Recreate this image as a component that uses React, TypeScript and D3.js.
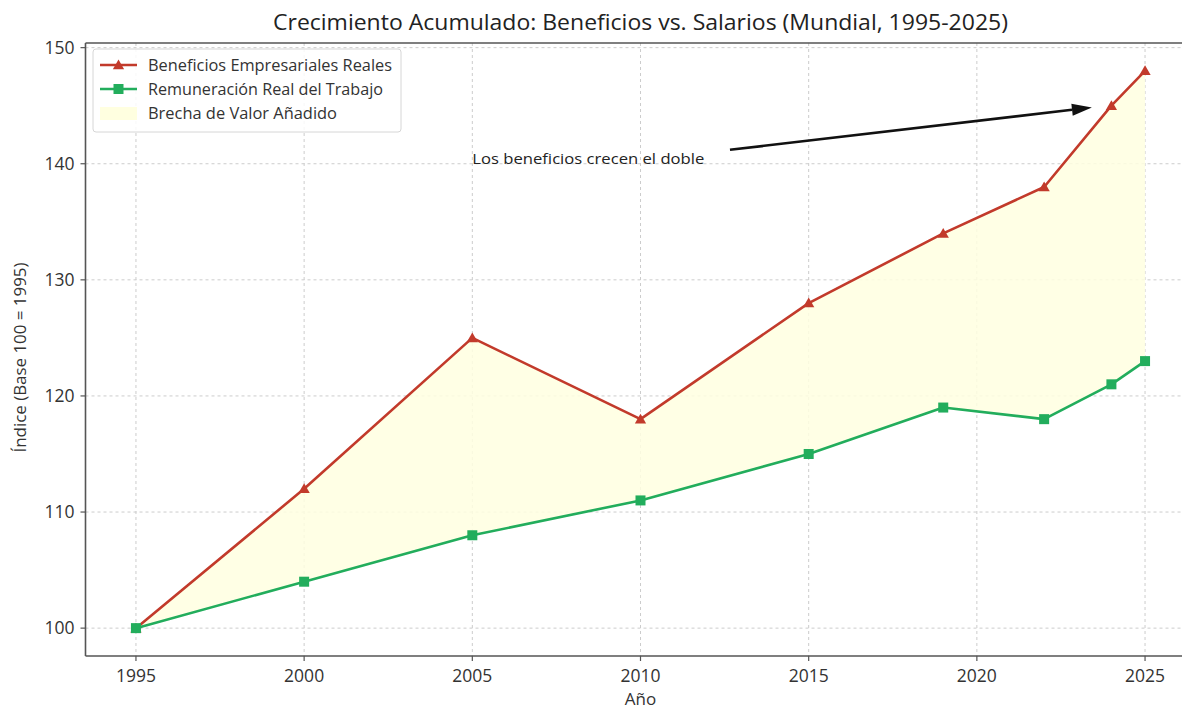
import React from "react";
import * as d3 from "d3";

const years = [1995, 2000, 2005, 2010, 2015, 2019, 2022, 2024, 2025];
const beneficios = [100, 112, 125, 118, 128, 134, 138, 145, 148];
const salarios = [100, 104, 108, 111, 115, 119, 118, 121, 123];
const xTicks = [1995, 2000, 2005, 2010, 2015, 2020, 2025];
const yTicks = [100, 110, 120, 130, 140, 150];
const seriesNames = [
  "Beneficios Empresariales Reales",
  "Remuneración Real del Trabajo",
  "Brecha de Valor Añadido",
];
const legendWidths = [244, 235, 189];
const annotationText = "Los beneficios crecen el doble";
const annotationTextPos = { year: 2005, value: 140 };
const arrowTail = { year: 2012.66, value: 141.2 };
const arrowTip = { year: 2023.42, value: 144.85 };

const W = 1182;
const H = 709;
const M = { left: 85.5, right: 1195.5, top: 43, bottom: 656 };
const RED = "#c23a2b";
const GREEN = "#22ad5c";
const FONT = "'Open Sans', 'Noto Sans', sans-serif";

export default function App() {
  const x = d3.scaleLinear().domain([1993.5, 2026.5]).range([M.left, M.right]);
  const y = d3.scaleLinear().domain([97.6, 150.4]).range([M.bottom, M.top]);

  const idx = years.map((_, i) => i);
  const lineB = d3.line<number>().x((i) => x(years[i])).y((i) => y(beneficios[i]))(idx) || "";
  const lineS = d3.line<number>().x((i) => x(years[i])).y((i) => y(salarios[i]))(idx) || "";
  const area =
    d3
      .area<number>()
      .x((i) => x(years[i]))
      .y0((i) => y(salarios[i]))
      .y1((i) => y(beneficios[i]))(idx) || "";

  const tri = d3.symbol().type(d3.symbolTriangle).size(55)() || "";

  const ax1 = x(arrowTail.year);
  const ay1 = y(arrowTail.value);
  const ax2 = x(arrowTip.year);
  const ay2 = y(arrowTip.value);
  const ang = Math.atan2(ay2 - ay1, ax2 - ax1);
  const hl = 20;
  const hw = 6;
  const bx = ax2 - hl * Math.cos(ang);
  const by = ay2 - hl * Math.sin(ang);
  const head = `M${ax2},${ay2} L${bx + hw * Math.sin(ang)},${by - hw * Math.cos(ang)} L${bx - hw * Math.sin(ang)},${by + hw * Math.cos(ang)} Z`;

  return (
    <svg width={W} height={H} style={{ display: "block", position: "absolute", left: 0, top: 0 }} fontFamily={FONT}>
      <rect x={0} y={0} width={W} height={H} fill="#fff" />
      <defs>
        <clipPath id="plotclip">
          <rect x={M.left} y={M.top} width={M.right - M.left} height={M.bottom - M.top} />
        </clipPath>
      </defs>
      {/* grid */}
      <g stroke="#cccccc" strokeWidth={1} strokeDasharray="3,3">
        {xTicks.map((t) => (
          <line key={"gx" + t} x1={x(t)} x2={x(t)} y1={M.top} y2={M.bottom} />
        ))}
        {yTicks.map((t) => (
          <line key={"gy" + t} x1={M.left} x2={M.right} y1={y(t)} y2={y(t)} />
        ))}
      </g>
      <g clipPath="url(#plotclip)">
        <path d={area} fill="#ffffe0" opacity={0.85} />
        <path d={lineB} fill="none" stroke={RED} strokeWidth={2.6} strokeLinejoin="round" />
        <path d={lineS} fill="none" stroke={GREEN} strokeWidth={2.6} strokeLinejoin="round" />
        {years.map((yr, i) => (
          <path key={"tb" + yr} d={tri} transform={`translate(${x(yr)},${y(beneficios[i]) + 1})`} fill={RED} />
        ))}
        {years.map((yr, i) => (
          <rect key={"sq" + yr} x={x(yr) - 5} y={y(salarios[i]) - 5} width={10} height={10} fill={GREEN} />
        ))}
      </g>
      {/* spines */}
      <g stroke="#555" strokeWidth={1.6} fill="none">
        <line x1={M.left} x2={M.left} y1={M.top} y2={M.bottom} />
        <line x1={M.left} x2={M.right} y1={M.bottom} y2={M.bottom} />
        <line x1={M.left} x2={M.right} y1={M.top} y2={M.top} />
        <line x1={M.right} x2={M.right} y1={M.top} y2={M.bottom} />
      </g>
      {/* ticks */}
      <g stroke="#555" strokeWidth={1.2}>
        {xTicks.map((t) => (
          <line key={"tx" + t} x1={x(t)} x2={x(t)} y1={M.bottom} y2={M.bottom + 5} />
        ))}
        {yTicks.map((t) => (
          <line key={"ty" + t} x1={M.left - 5} x2={M.left} y1={y(t)} y2={y(t)} />
        ))}
      </g>
      <g fontSize={17.5} fill="#333">
        {xTicks.map((t) => (
          <text key={"lx" + t} x={x(t)} y={M.bottom + 26} textAnchor="middle">
            {t}
          </text>
        ))}
        {yTicks.map((t) => (
          <text key={"ly" + t} x={M.left - 11} y={y(t) + 6} textAnchor="end">
            {t}
          </text>
        ))}
      </g>
      <text
        x={(M.left + M.right) / 2}
        y={30}
        textAnchor="middle"
        fontSize={21}
        fill="#222"
        textLength={735}
        lengthAdjust="spacingAndGlyphs"
      >
        Crecimiento Acumulado: Beneficios vs. Salarios (Mundial, 1995-2025)
      </text>
      <text x={(M.left + M.right) / 2} y={705} textAnchor="middle" fontSize={17} fill="#333">
        Año
      </text>
      <text
        transform={`translate(26,${(M.top + M.bottom) / 2 + 8}) rotate(-90)`}
        textAnchor="middle"
        fontSize={16.5}
        fill="#333"
        textLength={190}
        lengthAdjust="spacingAndGlyphs"
      >
        Índice (Base 100 = 1995)
      </text>
      {/* annotation */}
      <text
        x={x(annotationTextPos.year)}
        y={y(annotationTextPos.value)}
        fontSize={15}
        fill="#222"
        textLength={232}
        lengthAdjust="spacingAndGlyphs"
      >
        {annotationText}
      </text>
      <line x1={ax1} y1={ay1} x2={bx} y2={by} stroke="#111" strokeWidth={2.6} />
      <path d={head} fill="#111" />
      {/* legend */}
      <g>
        <rect x={93} y={49} width={308} height={83} rx={3} fill="#fff" fillOpacity={0.85} stroke="#d6d6d6" />
        <line x1={100} x2={137} y1={65} y2={65} stroke={RED} strokeWidth={2.6} />
        <path d={tri} transform="translate(118.5,66)" fill={RED} />
        <line x1={100} x2={137} y1={89} y2={89} stroke={GREEN} strokeWidth={2.6} />
        <rect x={113.5} y={84} width={10} height={10} fill={GREEN} />
        <rect x={100} y={107} width={37} height={13} fill="#ffffe0" />
        {seriesNames.map((n, i) => (
          <text
            key={n}
            x={148}
            y={71 + i * 24}
            fontSize={15.5}
            fill="#333"
            textLength={legendWidths[i]}
            lengthAdjust="spacingAndGlyphs"
          >
            {n}
          </text>
        ))}
      </g>
    </svg>
  );
}
